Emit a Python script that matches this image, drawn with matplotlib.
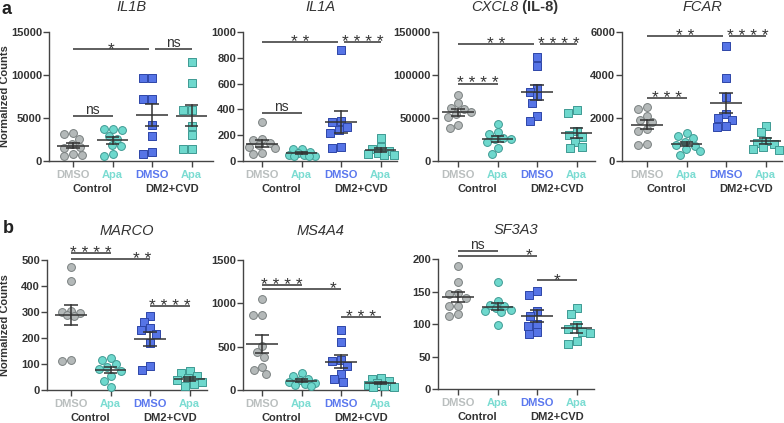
import numpy as np
import matplotlib.pyplot as plt
import matplotlib.transforms as mtransforms

plt.rcParams['font.family'] = ['Liberation Sans', 'DejaVu Sans']

W, H = 784, 423

treatments = ['DMSO', 'Apa', 'DMSO', 'Apa']
groups = ['Control', 'DM2+CVD']

# normalized counts per sample: Control DMSO, Control Apa, DM2+CVD DMSO, DM2+CVD Apa
il1b = [[3300, 3100, 2600, 2000, 1600, 1500, 800, 700, 600],
        [3700, 3600, 3700, 2900, 2600, 1900, 1800, 600, 800],
        [9600, 9700, 7200, 7200, 4200, 2900, 800, 1050],
        [11500, 9100, 5900, 5900, 4100, 3000, 1350, 1450]]
il1a = [[300, 170, 160, 140, 125, 110, 100, 60, 55],
        [95, 90, 70, 60, 50, 48, 42, 40, 38],
        [857, 310, 300, 265, 240, 220, 110, 100],
        [175, 105, 90, 75, 65, 55, 50, 45]]
cxcl8 = [[77000, 67000, 62000, 60000, 57000, 55000, 51000, 42000, 38000],
         [43000, 34000, 31000, 27000, 26000, 25000, 22000, 15000, 8000],
         [121000, 110000, 85000, 80000, 75000, 68000, 52000, 47000],
         [59000, 56000, 35000, 30000, 28000, 22000, 16000, 15000]]
fcar = [[2500, 2400, 2100, 1900, 1800, 1500, 1400, 800, 750],
        [1300, 1150, 1050, 900, 750, 700, 550, 450, 300],
        [5330, 3850, 2960, 2170, 2020, 1900, 1590, 1640],
        [1650, 1350, 950, 850, 800, 650, 550, 500]]
marco = [[475, 420, 305, 300, 295, 290, 285, 115, 112],
         [125, 115, 100, 90, 80, 75, 55, 35, 13],
         [285, 262, 232, 238, 215, 180, 93, 78],
         [75, 65, 55, 45, 40, 30, 25, 15]]
ms4a4 = [[1050, 870, 870, 510, 440, 380, 260, 230, 180],
         [195, 160, 130, 110, 95, 85, 70, 60, 45],
         [690, 550, 350, 330, 280, 185, 125, 95],
         [140, 130, 100, 80, 60, 50, 40, 30]]
sf3a3 = [[190, 165, 147, 146, 140, 128, 128, 115, 113],
         [164, 136, 130, 127, 125, 122, 120, 118, 98],
         [151, 145, 120, 113, 100, 97, 88, 84],
         [124, 115, 98, 93, 88, 86, 74, 70]]

# significance brackets: (from group, to group, height, label, label x)
il1b_sig = [(0, 2, 13000, '*', None), (2, 3, 13000, 'ns', None), (0, 1, 5200, 'ns', None)]
il1a_sig = [(0, 2, 920, '* *', None), (2, 3, 920, '* * * *', None), (0, 1, 374, 'ns', None)]
cxcl8_sig = [(0, 2, 135500, '* *', None), (2, 3, 135500, '* * * *', None), (0, 1, 90000, '* * * *', None)]
fcar_sig = [(0, 2, 5800, '* *', None), (2, 3, 5800, '* * * *', None), (0, 1, 2940, '* * *', None)]
marco_sig = [(0, 1, 528, '* * * *', None), (0, 2, 504, '* *', 1.8), (2, 3, 322, '* * * *', None)]
ms4a4_sig = [(0, 1, 1212, '* * * *', None), (0, 2, 1169, '*', 1.8), (2, 3, 845, '* * *', None)]
sf3a3_sig = [(0, 1, 212, 'ns', None), (0, 2, 205, '*', 1.8), (2, 3, 168, '*', None)]

fills = ['#B4B9B9', '#6ED8CD', '#5674E6', '#6ED8CD']
edges = ['#7A8080', '#3F9A93', '#2E46A8', '#3F9A93']
markers = ['o', 'o', 's', 's']
label_colors = ['#BABFBF', '#7BDCD2', '#5B78EE', '#7BDCD2']
dark = '#333333'

# (title, data, ymax, yticks, brackets, [left px, first tick px, right px, top px, bottom px])
panels = [
    ('IL1B', il1b, 15000, [0, 5000, 10000, 15000], il1b_sig, [49, 73, 213, 32, 161]),
    ('IL1A', il1a, 1000, [0, 200, 400, 600, 800, 1000], il1a_sig, [243, 262, 397, 32, 161]),
    ('CXCL8', cxcl8, 150000, [0, 50000, 100000, 150000], cxcl8_sig, [438, 458, 595, 32, 161]),
    ('FCAR', fcar, 6000, [0, 2000, 4000, 6000], fcar_sig, [622, 647, 782, 32, 161]),
    ('MARCO', marco, 500, [0, 100, 200, 300, 400, 500], marco_sig, [47, 71, 207, 260, 390]),
    ('MS4A4', ms4a4, 1500, [0, 500, 1000, 1500], ms4a4_sig, [243, 262, 397, 260, 390]),
    ('SF3A3', sf3a3, 200, [0, 50, 100, 150, 200], sf3a3_sig, [438, 458, 594, 259, 389]),
]

spacing = 39.5  # px between group centres


def swarm(vals, ymax, hpx, dx=9.0, dy=7.6, cap=13.0):
    # beeswarm in pixel space; within +-cap px, overlap allowed when crowded
    vals = np.asarray(vals, float)
    order = np.argsort(-vals, kind='stable')
    placed = []
    xs = np.zeros(len(vals))
    cands = [0.0]
    k = 1
    while k * 0.5 <= cap:
        cands += [-k * 0.5, k * 0.5]
        k += 1
    for idx in order:
        yp = vals[idx] / ymax * hpx
        best, best_d = 0.0, -1.0
        for xp in cands:
            dmin = min([((xp - px) / dx) ** 2 + ((yp - py) / dy) ** 2 for px, py in placed] or [9.0])
            if dmin >= 1:
                best = xp
                break
            if dmin > best_d + 1e-9:
                best, best_d = xp, dmin
        placed.append((best, yp))
        xs[idx] = best
    return xs


fig = plt.figure(figsize=(W / 100, H / 100), dpi=100)

for title, data, ymax, yticks, sig, box in panels:
    left, tick0, right, top, bottom = box
    ax = fig.add_axes([left / W, 1 - bottom / H, (right - left) / W, (bottom - top) / H])
    hpx = bottom - top
    ax.set_xlim(-(tick0 - left) / spacing, (right - tick0) / spacing)
    ax.set_ylim(0, ymax)

    for g, vals in enumerate(data):
        xs = g + swarm(vals, ymax, hpx) / spacing
        ax.scatter(xs, vals, s=32, marker=markers[g], c=fills[g], edgecolors=edges[g],
                   linewidths=0.7, zorder=3, clip_on=False)
        m = np.mean(vals)
        se = np.std(vals, ddof=1) / np.sqrt(len(vals))
        ax.plot([g - 0.4, g + 0.4], [m, m], color=dark, lw=1.1, zorder=4, solid_capstyle='butt')
        ax.plot([g, g], [m - se, m + se], color=dark, lw=1.1, zorder=4)
        for v in (m - se, m + se):
            ax.plot([g - 0.17, g + 0.17], [v, v], color=dark, lw=1.1, zorder=4, solid_capstyle='butt')

    # brackets
    for i, j, y, txt, tx in sig:
        x1, x2 = i, j
        for i2, j2, y2, _, _ in sig:
            if y2 == y and (i2, j2) != (i, j):
                if j2 == i:
                    x1 = i + 0.08
                if i2 == j:
                    x2 = j - 0.08
        ax.plot([x1, x2], [y, y], color=dark, lw=1.1, clip_on=False, solid_capstyle='butt')
        cx = (x1 + x2) / 2 if tx is None else tx
        if '*' in txt:
            ax.annotate(txt, (cx, y), xytext=(0, -3.5), textcoords='offset points',
                        ha='center', va='baseline', fontsize=12.5, color=dark,
                        annotation_clip=False)
        else:
            ax.annotate(txt, (cx, y), xytext=(0, 1.5), textcoords='offset points',
                        ha='center', va='baseline', fontsize=10, color=dark,
                        annotation_clip=False)

    for s in ['top', 'right']:
        ax.spines[s].set_visible(False)
    for s in ['left', 'bottom']:
        ax.spines[s].set_color('#444444')
        ax.spines[s].set_linewidth(1.0)

    ax.set_yticks(yticks)
    ax.set_yticklabels([str(t) for t in yticks], fontweight='bold', fontsize=8, color=dark)
    ax.set_xticks(range(4))
    ax.set_xticklabels(treatments, fontweight='bold', fontsize=8)
    for lab, c in zip(ax.get_xticklabels(), label_colors):
        lab.set_color(c)
    ax.tick_params(axis='both', length=4, width=1.0, color='#444444')
    ax.tick_params(axis='x', pad=2.5)
    ax.tick_params(axis='y', pad=1)

    trans = mtransforms.blended_transform_factory(ax.transData, ax.transAxes)
    for k, gname in enumerate(groups):
        ax.text(2 * k + 0.5, -28 / hpx, gname, transform=trans, ha='center', va='center',
                fontsize=8, fontweight='bold', color=dark)

    ty = 1 + (21 if top < 100 else 25) / hpx
    if title == 'CXCL8':
        t1 = ax.text((518 - left) / (right - left), ty, 'CXCL8', transform=ax.transAxes,
                     ha='right', va='baseline', fontsize=10.5, fontstyle='italic', color=dark)
        ax.annotate(' (IL-8)', xy=(1, 0), xycoords=t1, ha='left', va='bottom',
                    fontsize=10.5, fontweight='bold', color=dark)
    else:
        ax.text(0.5, ty, title, transform=ax.transAxes, ha='center', va='baseline',
                fontsize=10.5, fontstyle='italic', color=dark)

fig.text(5 / W, 1 - 96.5 / H, 'Normalized Counts', rotation=90, ha='center', va='center',
         fontsize=8, fontweight='bold', color=dark)
fig.text(5 / W, 1 - 325 / H, 'Normalized Counts', rotation=90, ha='center', va='center',
         fontsize=8, fontweight='bold', color=dark)
fig.text(2 / W, 1 - 14 / H, 'a', ha='left', va='baseline', fontsize=13, fontweight='bold', color='#222222')
fig.text(3 / W, 1 - 233 / H, 'b', ha='left', va='baseline', fontsize=13, fontweight='bold', color='#222222')

fig.savefig('out.png', dpi=100)
